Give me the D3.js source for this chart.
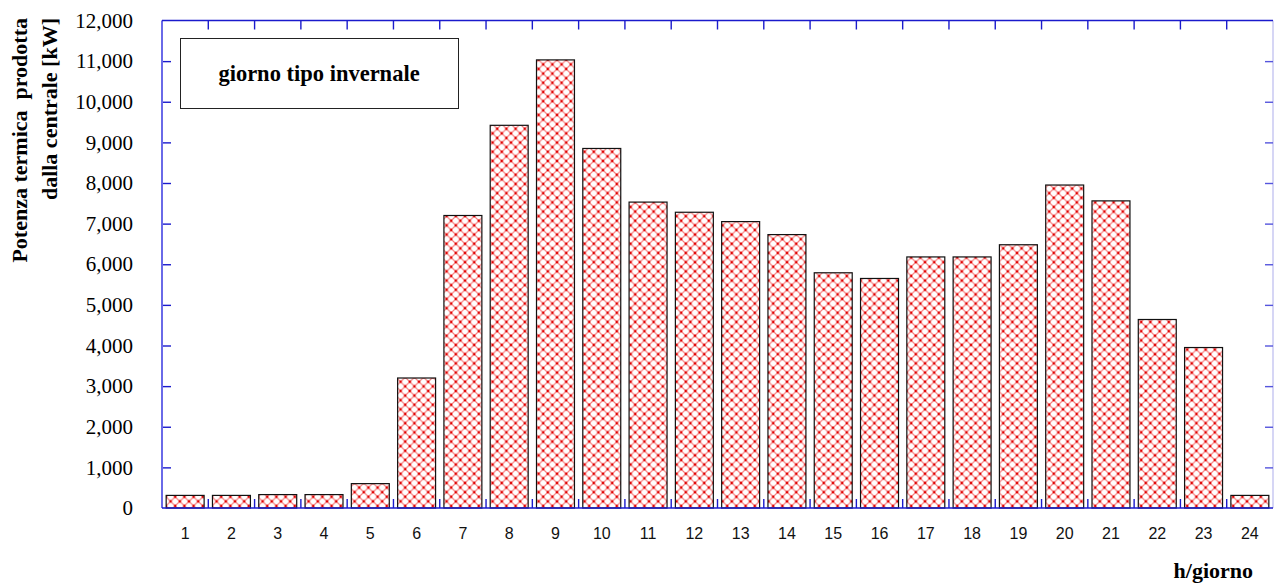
<!DOCTYPE html>
<html>
<head>
<meta charset="utf-8">
<script src="https://cdn.jsdelivr.net/npm/d3@7"></script>
<style>
  body { margin: 0; background: #fff; }
  svg { display: block; }
</style>
</head>
<body>
<svg width="1274" height="585"></svg>
<script>
// ore del giorno tipo e potenza termica [kW]
var hours = ["1","2","3","4","5","6","7","8","9","10","11","12","13","14","15","16","17","18","19","20","21","22","23","24"];
var power = [310, 310, 330, 330, 600, 3200, 7200, 9420, 11030, 8850, 7530, 7280, 7050, 6730, 5790, 5650, 6180, 6180, 6480, 7950, 7560, 4640, 3950, 310];
var yTicks = [0, 1000, 2000, 3000, 4000, 5000, 6000, 7000, 8000, 9000, 10000, 11000, 12000];

var svg = d3.select("svg"),
    plotLeft = 162, plotRight = 1273, plotTop = 20.5, plotBottom = 508;

var x = d3.scaleBand()
    .domain(hours)
    .range([plotLeft, plotRight])
    .paddingInner(0.18)
    .paddingOuter(0.09);

var y = d3.scaleLinear()
    .domain([0, 12000])
    .range([plotBottom, plotTop]);

var serif = "'Palatino Linotype', 'Book Antiqua', Palatino, 'Liberation Serif', serif";
var sans = "'Liberation Sans', Arial, sans-serif";
var blue = "#1a1acc";

// retino a croce rosso
var defs = svg.append("defs");
var s = 9.2;
var pat = defs.append("pattern")
    .attr("id", "hatch")
    .attr("patternUnits", "userSpaceOnUse")
    .attr("width", s)
    .attr("height", s)
    .attr("x", plotLeft + 4)
    .attr("y", 0);
pat.append("rect").attr("width", s).attr("height", s).attr("fill", "#fff");
pat.append("path")
    .attr("d", "M0,0L" + s + "," + s + "M" + s + ",0L0," + s)
    .attr("stroke", "#f46060")
    .attr("stroke-opacity", 0.8)
    .attr("stroke-width", 1.15);
[[0, 0], [s, 0], [0, s], [s, s], [s / 2, s / 2]].forEach(function (p) {
    pat.append("circle").attr("cx", p[0]).attr("cy", p[1]).attr("r", 1.3).attr("fill", "#e00000");
});

// barre
svg.append("g")
    .selectAll("rect")
    .data(power)
    .enter().append("rect")
    .attr("x", function (d, i) { return x(hours[i]); })
    .attr("y", function (d) { return y(d); })
    .attr("width", x.bandwidth())
    .attr("height", function (d) { return plotBottom - y(d); })
    .attr("fill", "url(#hatch)")
    .attr("stroke", "#111")
    .attr("stroke-width", 1.2);

// bordo destro chiaro
svg.append("line")
    .attr("x1", plotRight).attr("x2", plotRight)
    .attr("y1", plotTop).attr("y2", plotBottom)
    .attr("stroke", "#c8c8f2").attr("stroke-width", 1.5);

// confini delle classi per le tacche
var bounds = hours.map(function (h) { return x(h) - (x.step() - x.bandwidth()) / 2; });
bounds.push(plotRight);

svg.append("g")
    .selectAll("line")
    .data(bounds.slice(1, -1))
    .enter().append("line")
    .attr("x1", function (d) { return d; })
    .attr("x2", function (d) { return d; })
    .attr("y1", plotTop).attr("y2", plotTop + 9)
    .attr("stroke", blue).attr("stroke-width", 1.4);

svg.append("g")
    .selectAll("line")
    .data(bounds.slice(1, -1))
    .enter().append("line")
    .attr("x1", function (d) { return d; })
    .attr("x2", function (d) { return d; })
    .attr("y1", plotBottom - 9).attr("y2", plotBottom)
    .attr("stroke", blue).attr("stroke-width", 1.4);

// asse y: etichette
var yAxis = svg.append("g")
    .attr("transform", "translate(" + plotLeft + ",0)")
    .call(d3.axisLeft(y).tickValues(yTicks).tickFormat(d3.format(",")).tickSize(0).tickPadding(29));
yAxis.select(".domain").remove();
yAxis.selectAll("text")
    .attr("font-family", serif)
    .attr("font-size", 21)
    .attr("fill", "#000");

// tacche interne a sinistra e a destra
svg.append("g")
    .attr("transform", "translate(" + plotLeft + ",0)")
    .call(d3.axisRight(y).tickValues(yTicks.slice(1, -1)).tickSize(9).tickFormat(""))
    .call(function (g) {
        g.select(".domain").remove();
        g.selectAll("line").attr("stroke", blue).attr("stroke-width", 1.4);
    });
svg.append("g")
    .attr("transform", "translate(" + plotRight + ",0)")
    .call(d3.axisLeft(y).tickValues(yTicks.slice(1, -1)).tickSize(8).tickFormat(""))
    .call(function (g) {
        g.select(".domain").remove();
        g.selectAll("line").attr("stroke", "#5555dd").attr("stroke-width", 1.4);
    });

// linee di bordo
svg.append("line")
    .attr("x1", plotLeft).attr("x2", plotLeft).attr("y1", plotTop).attr("y2", plotBottom)
    .attr("stroke", "#6a6ae8").attr("stroke-width", 2);
svg.append("line")
    .attr("x1", plotLeft).attr("x2", plotRight).attr("y1", plotTop).attr("y2", plotTop)
    .attr("stroke", blue).attr("stroke-width", 1.5);
svg.append("line")
    .attr("x1", plotLeft).attr("x2", plotRight).attr("y1", plotBottom).attr("y2", plotBottom)
    .attr("stroke", blue).attr("stroke-width", 1.5);

// asse x: etichette
var xAxis = svg.append("g")
    .attr("transform", "translate(0," + plotBottom + ")")
    .call(d3.axisBottom(x).tickSize(0).tickPadding(20));
xAxis.select(".domain").remove();
xAxis.selectAll("text")
    .attr("font-family", sans)
    .attr("font-size", 16)
    .attr("fill", "#111");

// titoli assi
var yTitle = svg.append("text")
    .attr("transform", "translate(27,18) rotate(-90)")
    .attr("text-anchor", "end")
    .attr("font-family", serif)
    .attr("font-weight", "bold")
    .attr("font-size", 22)
    .attr("fill", "#000")
    .style("white-space", "pre");
yTitle.append("tspan").attr("x", 0).attr("y", 0).text("Potenza termica  prodotta");
yTitle.append("tspan").attr("x", 0).attr("y", 30).text("dalla centrale [kW]");

svg.append("text")
    .attr("x", 1253)
    .attr("y", 578)
    .attr("text-anchor", "end")
    .attr("font-family", serif)
    .attr("font-weight", "bold")
    .attr("font-size", 22)
    .attr("fill", "#000")
    .text("h/giorno");

// legenda
svg.append("rect")
    .attr("x", 180.5).attr("y", 38.5)
    .attr("width", 278).attr("height", 70)
    .attr("fill", "#fff")
    .attr("stroke", "#222").attr("stroke-width", 1);
svg.append("text")
    .attr("x", 319)
    .attr("y", 81)
    .attr("text-anchor", "middle")
    .attr("font-family", serif)
    .attr("font-weight", "bold")
    .attr("font-size", 22.5)
    .attr("fill", "#000")
    .text("giorno tipo invernale");
</script>
</body>
</html>
